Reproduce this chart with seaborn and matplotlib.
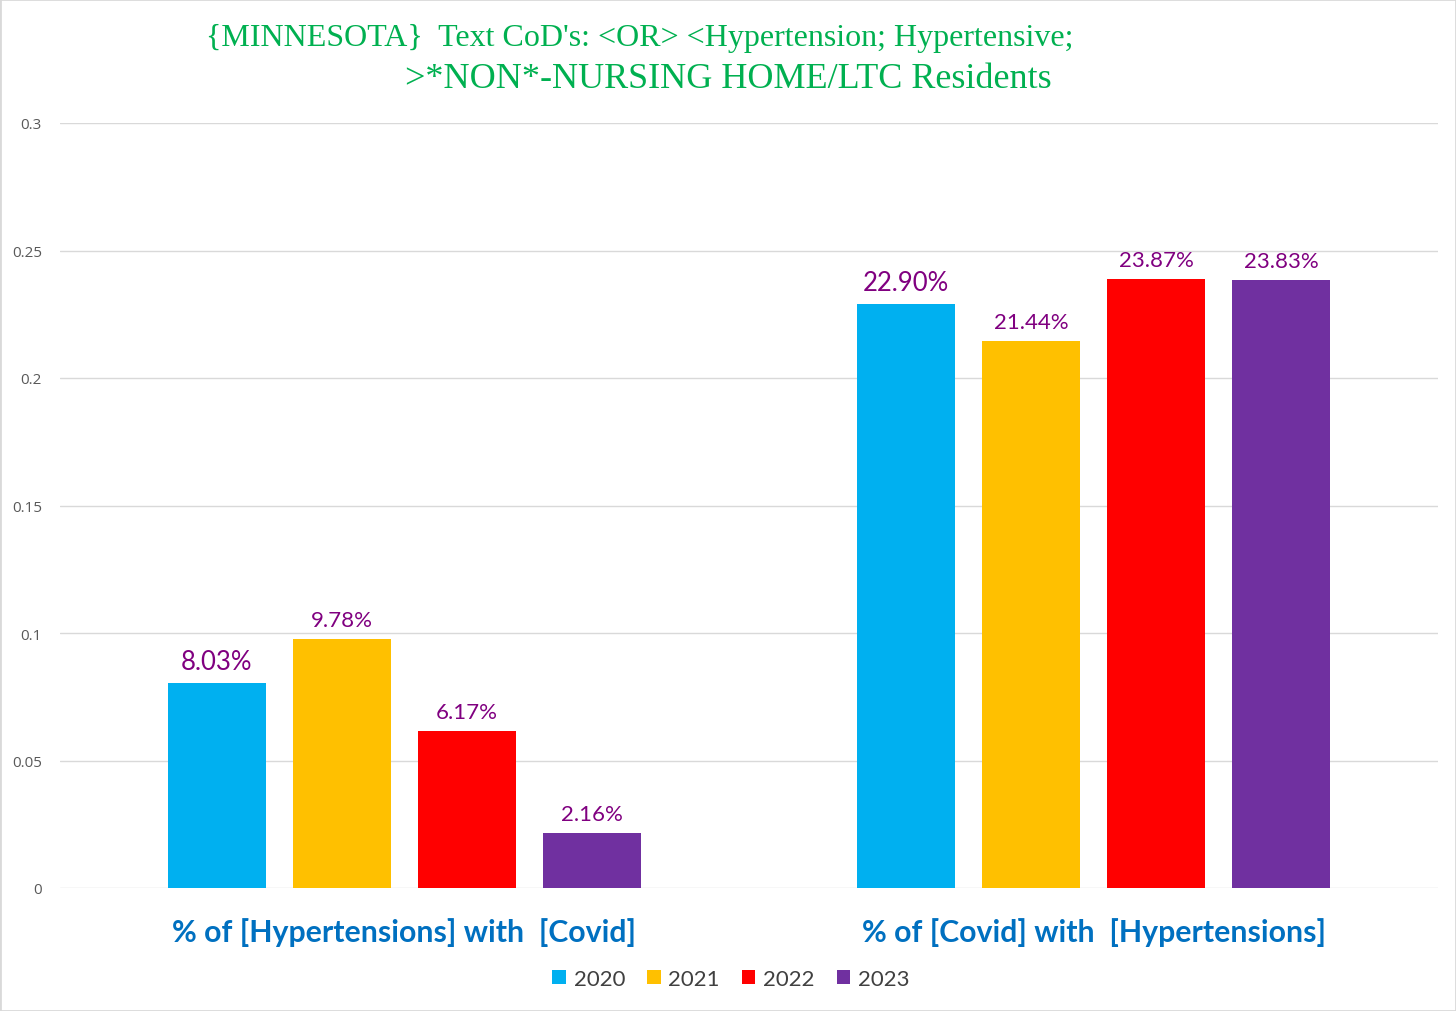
import matplotlib
matplotlib.use("Agg")
import matplotlib.pyplot as plt
import seaborn as sns
import pandas as pd
from matplotlib.patches import Rectangle

categories = ["% of [Hypertensions] with  [Covid]", "% of [Covid] with  [Hypertensions]"]
years = ["2020", "2021", "2022", "2023"]
values_2020 = [0.0803, 0.2290]
values_2021 = [0.0978, 0.2144]
values_2022 = [0.0617, 0.2387]
values_2023 = [0.0216, 0.2383]
colors = ["#00B0F0", "#FFC000", "#FF0000", "#7030A0"]
yticks = [0, 0.05, 0.1, 0.15, 0.2, 0.25, 0.3]
ytick_labels = ["0", "0.05", "0.1", "0.15", "0.2", "0.25", "0.3"]

series = [values_2020, values_2021, values_2022, values_2023]
rows = []
for y, vals in zip(years, series):
    for c, v in zip(categories, vals):
        rows.append({"category": c, "year": y, "value": v})
df = pd.DataFrame(rows)

sns.set_theme(style="white")
plt.rcParams['font.family'] = ['Lato', 'DejaVu Sans']

fig = plt.figure(figsize=(14.56, 10.12), dpi=100)
ax = fig.add_axes([60/1456, 1 - 889/1012, 1378/1456, (889-124)/1012])

sns.barplot(data=df, x="category", y="value", hue="year", hue_order=years,
            palette=colors, width=0.726, gap=0.217, ax=ax, saturation=1,
            legend=True, linewidth=0)

ax.set_ylim(0, 0.3)
ax.set_xlim(-0.5, 1.5)
ax.set_yticks(yticks)
ax.set_yticklabels(ytick_labels, color="#595959", fontsize=11, family="Open Sans")
ax.yaxis.grid(True, color="#D9D9D9", linewidth=1.0)
ax.set_axisbelow(True)
for s in ax.spines.values():
    s.set_visible(False)
ax.tick_params(axis="y", length=0, pad=13)
ax.tick_params(axis="x", length=0, pad=21)
ax.set_xlabel("")
ax.set_ylabel("")
for lbl in ax.get_xticklabels():
    lbl.set_color("#0070C0")
    lbl.set_fontweight("bold")
    lbl.set_fontsize(21.8)

# value labels
for i, cont in enumerate(ax.containers):
    fs = 18.5 if i == 0 else 16
    for bar in cont:
        h = bar.get_height()
        ax.annotate(f"{h*100:.2f}%", (bar.get_x() + bar.get_width()/2, h),
                    xytext=(0, 9), textcoords="offset pixels",
                    ha="center", va="bottom", fontsize=fs, color="#800080")

# legend
handles, labels = ax.get_legend_handles_labels()
ax.legend_.remove()
fig.legend(handles, labels, loc="center", bbox_to_anchor=(731/1456, 1 - 980/1012),
           ncol=4, frameon=False, fontsize=16, handlelength=0.6, handleheight=0.6,
           handletextpad=0.35, columnspacing=1.0, labelcolor="#404040")

# title
fig.text(640/1456, 1 - 38/1012, "{MINNESOTA}  Text CoD's: <OR> <Hypertension; Hypertensive;",
         ha="center", va="center", fontsize=23, color="#00B050", family="Liberation Serif")
fig.text(728/1456, 1 - 80/1012, ">*NON*-NURSING HOME/LTC Residents",
         ha="center", va="center", fontsize=26, color="#00B050", family="Liberation Serif")

fig.patches.append(Rectangle((0, 0), 1, 1, transform=fig.transFigure, fill=False,
                             edgecolor="#D9D9D9", linewidth=2))

fig.savefig("out.png", dpi=100)
